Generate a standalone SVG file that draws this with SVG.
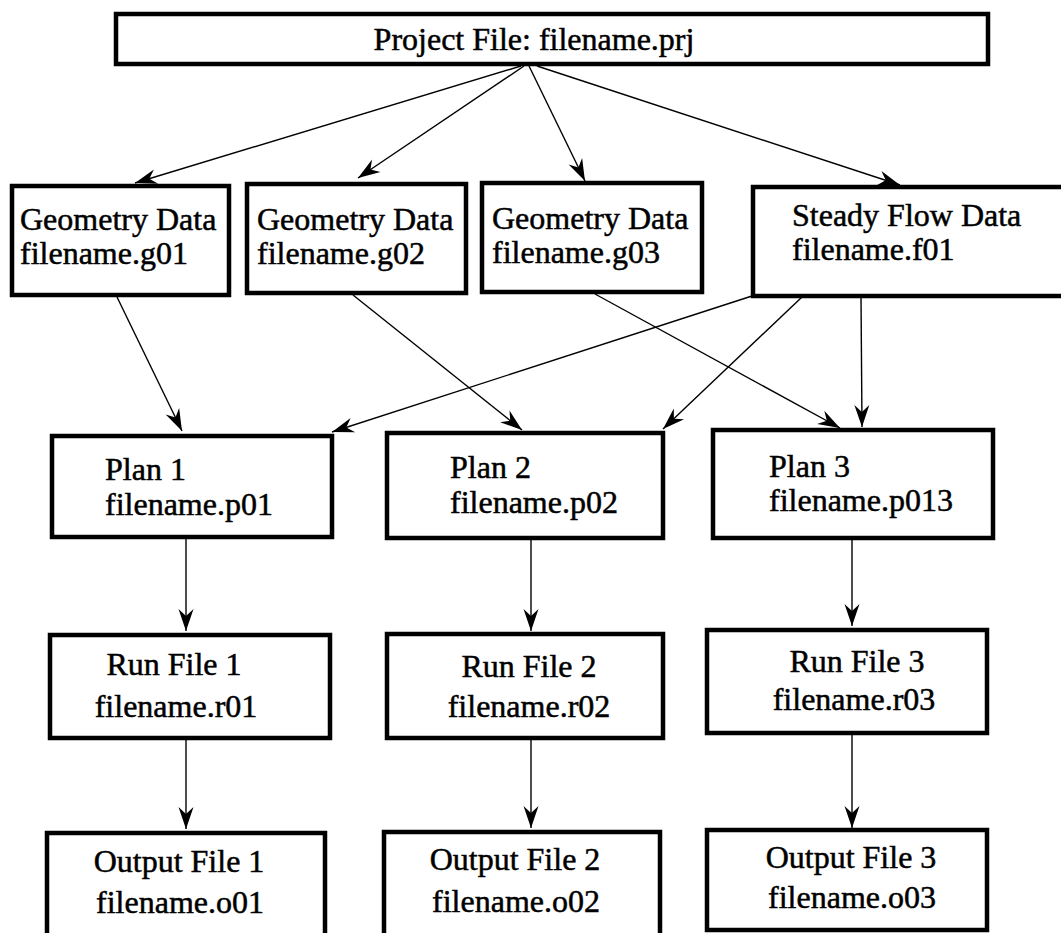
<svg xmlns="http://www.w3.org/2000/svg" width="1061" height="933" viewBox="0 0 1061 933">
<style>
.box{fill:#fff;stroke:#000;stroke-width:4.5}
.t{font-family:"Liberation Serif","Times New Roman",serif;font-size:32px;fill:#000;stroke:#000;stroke-width:0.5}
.m{text-anchor:middle}
.c{fill:none;stroke:#000;stroke-width:1.4}
</style>
<defs>
<marker id="ah" markerUnits="userSpaceOnUse" markerWidth="26" markerHeight="18" viewBox="-23 -9 24 18" refX="0" refY="0" orient="auto">
<path d="M0,0 L-22,-7.5 L-15,0 L-22,7.5 Z" fill="#000"/>
</marker>
</defs>
<rect width="1061" height="933" fill="#fff"/>
<g id="connectors">
<line class="c" x1="521" y1="66" x2="135" y2="183" marker-end="url(#ah)"/>
<line class="c" x1="524" y1="66" x2="358" y2="178" marker-end="url(#ah)"/>
<line class="c" x1="529" y1="66" x2="585" y2="181" marker-end="url(#ah)"/>
<line class="c" x1="537" y1="66" x2="900" y2="185" marker-end="url(#ah)"/>
<line class="c" x1="117" y1="297" x2="182" y2="431" marker-end="url(#ah)"/>
<line class="c" x1="353" y1="295" x2="522" y2="430" marker-end="url(#ah)"/>
<line class="c" x1="595" y1="294" x2="840" y2="428" marker-end="url(#ah)"/>
<line class="c" x1="752" y1="296" x2="332" y2="432" marker-end="url(#ah)"/>
<line class="c" x1="802" y1="297" x2="663" y2="429" marker-end="url(#ah)"/>
<line class="c" x1="861" y1="297" x2="862" y2="427" marker-end="url(#ah)"/>
<line class="c" x1="186" y1="539" x2="186" y2="631" marker-end="url(#ah)"/>
<line class="c" x1="186" y1="740" x2="186" y2="829" marker-end="url(#ah)"/>
<line class="c" x1="531" y1="539" x2="531" y2="631" marker-end="url(#ah)"/>
<line class="c" x1="531" y1="740" x2="531" y2="828" marker-end="url(#ah)"/>
<line class="c" x1="852" y1="539" x2="852" y2="626" marker-end="url(#ah)"/>
<line class="c" x1="852" y1="735" x2="852" y2="828" marker-end="url(#ah)"/>
</g>
<g id="project">
<rect class="box" x="116" y="14" width="872" height="50"/>
<text class="t m" x="534" y="50">Project File: filename.prj</text>
</g>
<g id="geom1">
<rect class="box" x="12" y="186" width="217" height="109"/>
<text class="t" x="20" y="230">Geometry Data</text>
<text class="t" x="20" y="264">filename.g01</text>
</g>
<g id="geom2">
<rect class="box" x="247" y="184" width="219" height="109"/>
<text class="t" x="257" y="230">Geometry Data</text>
<text class="t" x="257" y="264">filename.g02</text>
</g>
<g id="geom3">
<rect class="box" x="482" y="183" width="220" height="109"/>
<text class="t" x="492" y="229">Geometry Data</text>
<text class="t" x="492" y="263">filename.g03</text>
</g>
<g id="flow">
<rect class="box" x="753" y="187" width="330" height="109"/>
<text class="t" x="792" y="226">Steady Flow Data</text>
<text class="t" x="792" y="260">filename.f01</text>
</g>
<g id="plan1">
<rect class="box" x="52" y="436" width="280" height="101"/>
<text class="t" x="105" y="480">Plan 1</text>
<text class="t" x="105" y="515">filename.p01</text>
</g>
<g id="plan2">
<rect class="box" x="387" y="433" width="276" height="105"/>
<text class="t" x="450" y="478">Plan 2</text>
<text class="t" x="450" y="513">filename.p02</text>
</g>
<g id="plan3">
<rect class="box" x="713" y="430" width="280" height="108"/>
<text class="t" x="769" y="477">Plan 3</text>
<text class="t" x="769" y="511">filename.p013</text>
</g>
<g id="run1">
<rect class="box" x="50" y="635" width="280" height="103"/>
<text class="t m" x="174" y="675">Run File 1</text>
<text class="t m" x="176" y="717">filename.r01</text>
</g>
<g id="run2">
<rect class="box" x="387" y="634" width="276" height="104"/>
<text class="t m" x="529" y="677">Run File 2</text>
<text class="t m" x="529" y="717">filename.r02</text>
</g>
<g id="run3">
<rect class="box" x="707" y="630" width="280" height="103"/>
<text class="t m" x="857" y="672">Run File 3</text>
<text class="t m" x="854" y="710">filename.r03</text>
</g>
<g id="out1">
<rect class="box" x="47" y="833" width="278" height="110"/>
<text class="t m" x="179" y="872">Output File 1</text>
<text class="t m" x="180" y="913">filename.o01</text>
</g>
<g id="out2">
<rect class="box" x="384" y="832" width="276" height="110"/>
<text class="t m" x="515" y="870">Output File 2</text>
<text class="t m" x="516" y="912">filename.o02</text>
</g>
<g id="out3">
<rect class="box" x="707" y="830" width="280" height="100"/>
<text class="t m" x="851" y="868">Output File 3</text>
<text class="t m" x="852" y="908">filename.o03</text>
</g>
</svg>
